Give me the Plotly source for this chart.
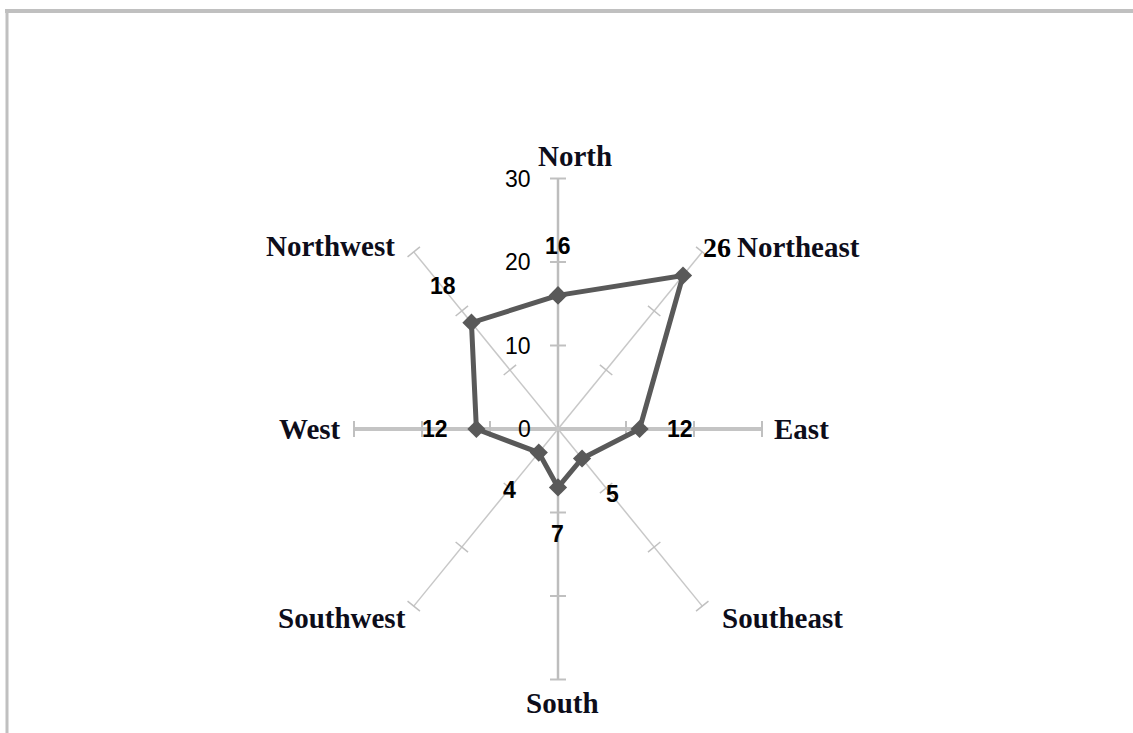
import numpy as np
import plotly.graph_objects as go

# ---- data ----
categories = ["North", "Northeast", "East", "Southeast", "South", "Southwest", "West", "Northwest"]
values = [16, 26, 12, 5, 7, 4, 12, 18]
angles_deg = [0, 45, 90, 135, 180, 225, 270, 315]
radial_ticks = [0, 10, 20, 30]
radial_tick_labels = ["0", "10", "20", "30"]
r_max = 30

# ---- layout constants (pixels) ----
W, H = 1133, 733
CX, CY = 558, 429          # centre of the radar in pixels
SX, SY = 6.8, 8.35         # pixels per unit, horizontal / vertical (chart is squashed)

theta = np.radians(angles_deg)
sin_t, cos_t = np.sin(theta), np.cos(theta)

x_range = [-CX / SX, (W - CX) / SX]
y_range = [-(H - CY) / SY, CY / SY]

fig = go.Figure()

# spokes (category axes)
def spoke_trace(idx, width, color):
    xs, ys = [], []
    for i in idx:
        xs += [0, r_max * sin_t[i], None]
        ys += [0, r_max * cos_t[i], None]
    return go.Scatter(x=xs, y=ys, mode="lines", line=dict(color=color, width=width),
                      hoverinfo="skip", showlegend=False)

fig.add_trace(spoke_trace([0, 4], 2.5, "#bdbdbd"))
fig.add_trace(spoke_trace([2, 6], 4, "#c4c4c4"))
fig.add_trace(spoke_trace([1, 3, 5, 7], 1.5, "#c8c8c8"))

# tick marks on each spoke
L = 8.0
for i in range(len(angles_deg)):
    dxp, dyp = sin_t[i] * SX, cos_t[i] * SY
    n = np.hypot(dxp, dyp)
    px, py = -dyp / n, dxp / n
    xs, ys = [], []
    for t in radial_ticks[1:]:
        cx, cy = t * sin_t[i], t * cos_t[i]
        xs += [cx - px * L / SX, cx + px * L / SX, None]
        ys += [cy - py * L / SY, cy + py * L / SY, None]
    diag = i % 2 == 1
    fig.add_trace(go.Scatter(x=xs, y=ys, mode="lines",
                             line=dict(color="#c0c0c0", width=1.5 if diag else 2),
                             hoverinfo="skip", showlegend=False))

# data series
vx = [v * s for v, s in zip(values, sin_t)]
vy = [v * c for v, c in zip(values, cos_t)]
fig.add_trace(go.Scatter(x=vx + [vx[0]], y=vy + [vy[0]], mode="lines+markers",
                         line=dict(color="#595959", width=5),
                         marker=dict(symbol="diamond", size=14, color="#595959"),
                         hoverinfo="skip", showlegend=False))

annotations = []
num_font = dict(family="Liberation Sans, Arial, sans-serif", size=23, color="#000000")
cat_font = dict(family="Liberation Serif, Times New Roman, serif", size=29, color="#0d0d1a")

# radial axis labels (left of north spoke)
for t, lab in zip(radial_ticks, radial_tick_labels):
    annotations.append(dict(x=0, y=t, xref="x", yref="y", text=lab, showarrow=False,
                            xanchor="right", yanchor="middle", xshift=-25, font=num_font))

# data labels: pixel offsets from each point
data_label_offsets = [(0, 49), (34, 28), (40, 0), (30, -35), (-1, -47), (-29, -37), (-41, 0), (-28, 37)]
for i, (x, y, v, (ox, oy)) in enumerate(zip(vx, vy, values, data_label_offsets)):
    f = dict(num_font)
    txt = "<b>%d</b>" % v
    if i == 1:
        f = dict(family="Liberation Serif, Times New Roman, serif", size=28, color="#000000")
    annotations.append(dict(x=x, y=y, xref="x", yref="y", text=txt, showarrow=False,
                            xanchor="center", yanchor="middle", xshift=ox, yshift=oy, font=f))

# category labels: offsets from spoke ends
cat_label_style = [
    ("center", 17, 23), ("left", 33, 5), ("left", 10, 0), ("left", 18, -12),
    ("center", 4, -23), ("right", -6, -12), ("right", -11, 0), ("right", -17, 6),
]
for i, (cat, (anc, ox, oy)) in enumerate(zip(categories, cat_label_style)):
    annotations.append(dict(x=r_max * sin_t[i], y=r_max * cos_t[i], xref="x", yref="y",
                            text="<b>%s</b>" % cat, showarrow=False, xanchor=anc, yanchor="middle",
                            xshift=ox, yshift=oy, font=cat_font))

# chart border (top and left edges visible)
shapes = [
    dict(type="line", xref="paper", yref="paper", x0=7 / W, x1=7 / W, y0=0, y1=1 - 11 / H,
         line=dict(color="#c0c0c0", width=3)),
    dict(type="line", xref="paper", yref="paper", x0=5 / W, x1=1, y0=1 - 11 / H, y1=1 - 11 / H,
         line=dict(color="#c0c0c0", width=4)),
]

fig.update_layout(
    width=W, height=H, margin=dict(l=0, r=0, t=0, b=0),
    paper_bgcolor="white", plot_bgcolor="white",
    xaxis=dict(range=x_range, visible=False, fixedrange=True),
    yaxis=dict(range=y_range, visible=False, fixedrange=True),
    annotations=annotations, shapes=shapes, showlegend=False,
)

fig.write_html("out.html")
